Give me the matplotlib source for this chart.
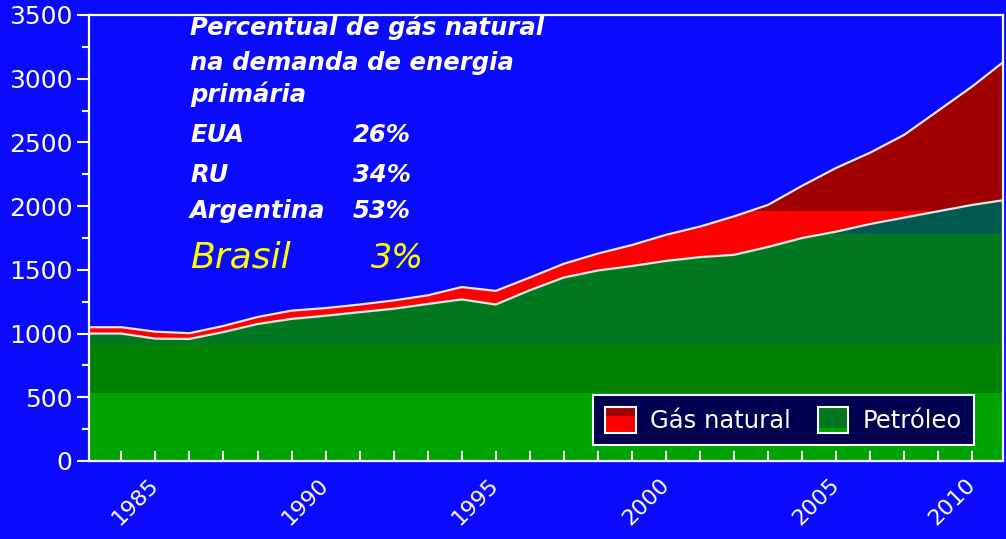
import matplotlib
matplotlib.use("Agg")
import matplotlib.pyplot as plt
import numpy as np
from matplotlib.patches import Rectangle, Patch
from matplotlib.legend_handler import HandlerBase

# dados (Mtep)
anos = [1983, 1984, 1985, 1986, 1987, 1988, 1989, 1990, 1991, 1992, 1993, 1994, 1995, 1996,
        1997, 1998, 1999, 2000, 2001, 2002, 2003, 2004, 2005, 2006, 2007, 2008, 2009, 2010]
petroleo = [1000, 1000, 960, 958, 1012, 1075, 1115, 1140, 1168, 1195, 1232, 1268, 1228, 1340,
            1440, 1495, 1530, 1570, 1600, 1618, 1680, 1750, 1800, 1860, 1910, 1960, 2010, 2050]
gas_natural = [50, 50, 55, 45, 48, 55, 65, 60, 60, 65, 68, 97, 107, 100,
               108, 133, 165, 205, 240, 302, 330, 410, 500, 560, 650, 790, 930, 1100]

rotulos_x = ['1985', '1990', '1995', '2000', '2005', '2010']
pos_rotulos_x = [1985, 1990, 1995, 2000, 2005, 2009]

paises = ['EUA', 'RU', 'Argentina']
perc_paises = ['26%', '34%', '53%']

AZUL = '#0A0AFF'
# faixas de cor (efeito degradê do original)
faixas_petroleo = [(0, 530, '#00A400'), (530, 910, '#008000'), (910, 1780, '#007820'), (1780, 4000, '#005A50')]
faixas_gas = [(0, 1960, '#FF0000'), (1960, 4000, '#A00000')]


class Amostra(HandlerBase):
    def __init__(self, cor_cima, cor_baixo, frac):
        super().__init__()
        self.cor_cima, self.cor_baixo, self.frac = cor_cima, cor_baixo, frac

    def create_artists(self, legend, orig_handle, xdescent, ydescent, width, height, fontsize, trans):
        x0, y0 = -xdescent, -ydescent
        h1 = height * self.frac
        baixo = Rectangle((x0, y0), width, h1, facecolor=self.cor_baixo, edgecolor='none', transform=trans)
        cima = Rectangle((x0, y0 + h1), width, height - h1, facecolor=self.cor_cima, edgecolor='none', transform=trans)
        borda = Rectangle((x0, y0), width, height, facecolor='none', edgecolor='white', lw=1.5, transform=trans)
        return [baixo, cima, borda]


fig = plt.figure(figsize=(10.06, 5.39), dpi=100, facecolor=AZUL)
ax = fig.add_axes([89 / 1006, 1 - 461 / 539, (1003 - 89) / 1006, (461 - 15) / 539])
ax.set_facecolor(AZUL)

polys = ax.stackplot(anos, petroleo, gas_natural, colors=['#007820', '#FF0000'], linewidth=0)
for poly, faixas in zip(polys, [faixas_petroleo, faixas_gas]):
    caminho = poly.get_paths()[0]
    for lo, hi, cor in faixas:
        faixa = ax.axhspan(lo, hi, color=cor, lw=0)
        faixa.set_clip_path(caminho, ax.transData)

total = np.array(petroleo) + np.array(gas_natural)
ax.plot(anos, petroleo, color='#E6E6E6', lw=1.6)
ax.plot(anos, total, color='#E6E6E6', lw=1.6)

ax.set_xlim(1983.05, 2009.9)
ax.set_ylim(0, 3500)

for s in ax.spines.values():
    s.set_color('white')
    s.set_linewidth(1.6)

ax.set_yticks(range(0, 3501, 500))
ax.set_yticks(range(250, 3500, 500), minor=True)
ax.tick_params(axis='y', which='major', direction='out', length=9, width=1.5, color='white',
               labelcolor='white', labelsize=18, pad=3)
ax.tick_params(axis='y', which='minor', direction='out', length=5, width=1.5, color='white')

ax.set_xticks(pos_rotulos_x)
ax.set_xticklabels(rotulos_x, rotation=45, ha='right', va='center', rotation_mode='anchor')
ax.set_xticks(range(1984, 2010), minor=True)
ax.tick_params(axis='x', which='both', direction='in', length=7, width=1.5, color='white')
ax.tick_params(axis='x', which='major', labelcolor='white', labelsize=16, pad=15)

# legenda
h_gas = Patch(label='Gás natural')
h_pet = Patch(label='Petróleo')
leg = ax.legend(handles=[h_gas, h_pet], ncol=2, loc='center',
                bbox_to_anchor=((585 + 982) / 2 / 1006, 1 - 420 / 539), bbox_transform=fig.transFigure,
                handler_map={h_gas: Amostra('#A00000', '#FF0000', 0.65),
                             h_pet: Amostra('#007820', '#00A400', 0.2)},
                fontsize=17.5, handlelength=1.25, handleheight=1.25, handletextpad=0.6, columnspacing=1.1,
                borderpad=0.5, borderaxespad=0, fancybox=False, framealpha=1, facecolor='#000050',
                edgecolor='white', labelcolor='white')
leg.get_frame().set_linewidth(1.5)

# bloco de texto
fonte = ['DejaVu Sans']
def px(x, y):
    return x / 1006, 1 - y / 539

titulo = ['Percentual de gás natural', 'na demanda de energia', 'primária']
for linha, yb in zip(titulo, [35, 70, 102]):
    fig.text(*px(190, yb), linha, color='white', fontsize=17.5, fontweight='bold', fontstyle='italic',
             family=fonte, va='baseline')
for pais, perc, yb in zip(paises, perc_paises, [142, 182, 218]):
    fig.text(*px(190, yb), pais, color='white', fontsize=17.5, fontweight='bold', fontstyle='italic',
             family=fonte, va='baseline')
    fig.text(*px(353, yb), perc, color='white', fontsize=17.5, fontweight='bold', fontstyle='italic',
             family=fonte, va='baseline')
fig.text(*px(190, 268), 'Brasil', color='#FFFF00', fontsize=26, fontstyle='italic',
         family=fonte, va='baseline')
fig.text(*px(371, 268), '3%', color='#FFFF00', fontsize=24, fontstyle='italic',
         family=fonte, va='baseline')

fig.savefig('out.png', dpi=100, facecolor=AZUL)
